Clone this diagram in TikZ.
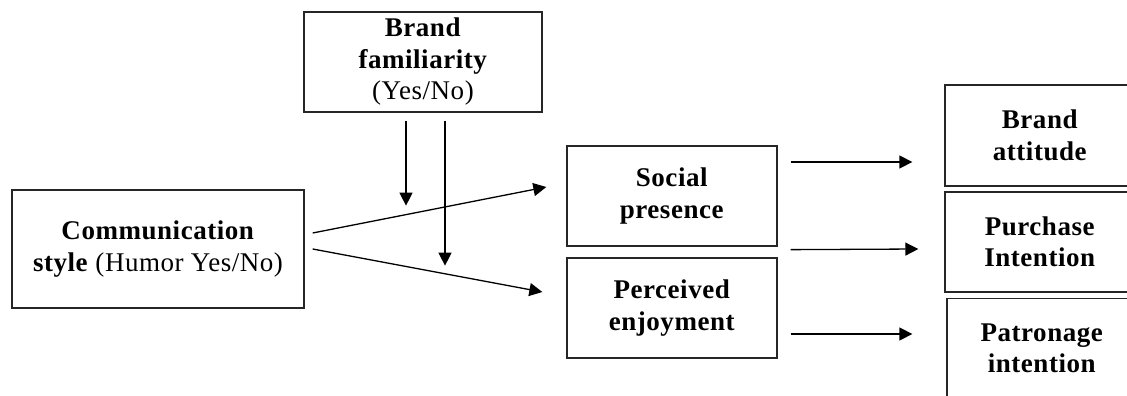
\documentclass[tikz,border=0pt]{standalone}
\usepackage{fontspec}
\setmainfont{Liberation Serif}[LetterSpace=2]
\usetikzlibrary{arrows.meta,calc}
\begin{document}
\begin{tikzpicture}[x=1pt,y=-1pt,
  box/.style={draw=black!85, line width=1.3pt, inner sep=0pt, align=center,
    font=\fontsize{27}{31.5}\selectfont},
  link/.style={line width=1.3pt, -{Triangle[length=13pt,width=13pt]}}]
\clip (0,0) rectangle (1127,396);

% inputs and moderator
\node[box, minimum width=292pt, minimum height=118pt] (comm) at (158,249)
  {\textbf{Communication}\\\textbf{style} (Humor Yes/No)};
\node[box, minimum width=238pt, minimum height=100pt] (fam) at (423,62)
  {\textbf{Brand}\\\textbf{familiarity}\\(Yes/No)};

% mediators
\node[box, minimum width=210pt, minimum height=100pt] (social) at (672,196)
  {\textbf{Social}\\\textbf{presence}};
\node[box, minimum width=210pt, minimum height=100pt] (enjoy) at (672,308)
  {\textbf{Perceived}\\\textbf{enjoyment}};

% outcomes
\node[box, minimum width=190pt, minimum height=101pt] (attitude) at (1040,135.5)
  {\textbf{Brand}\\\textbf{attitude}};
\node[box, minimum width=190pt, minimum height=100pt] (purchase) at (1040,242)
  {\textbf{Purchase}\\\textbf{Intention}};
\node[box, minimum width=190pt, minimum height=100pt] (patron) at (1042,348.5)
  {\textbf{Patronage}\\\textbf{intention}};

% moderation arrow ends
\coordinate (m1) at ($(fam.south)+(-17,93)$);
\coordinate (m2) at ($(fam.south)+(22,153)$);

% connectors
\draw[link] ($(comm.east)+(8,-16)$) -- ($(social.west)+(-20,-9)$);
\draw[link] ($(comm.east)+(8,0)$) -- ($(enjoy.west)+(-24,-16)$);
\draw[link] ($(fam.south)+(-17,8)$) -- (m1);
\draw[link] ($(fam.south)+(22,8)$) -- (m2);
\draw[link] ($(social.east)+(13,-34)$) -- ($(attitude.west)+(-32,26.5)$);
\draw[link] ($(social.south east)+(13,3)$) -- ($(purchase.west)+(-26,7)$);
\draw[link] ($(enjoy.east)+(13,26)$) -- ($(patron.west)+(-34,-14.5)$);
\end{tikzpicture}
\end{document}
